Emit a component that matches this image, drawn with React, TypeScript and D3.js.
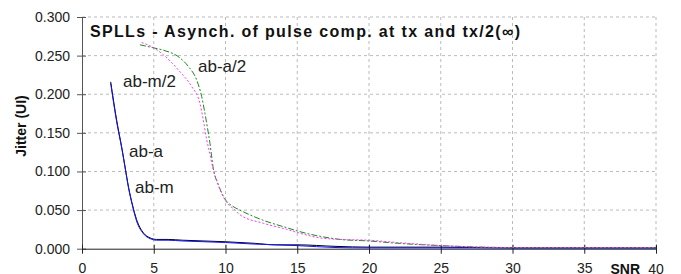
import React, { useEffect, useRef } from 'react'
import * as d3 from 'd3'

const xTicks = [0, 5, 10, 15, 20, 25, 30, 35, 40]
const yTicks = [0, 0.05, 0.1, 0.15, 0.2, 0.25, 0.3]

const abAx = [2, 2.4, 2.8, 3, 3.25, 3.5, 3.8, 4.3, 4.75, 5.2, 6, 7, 8.5, 10, 12, 13.5, 15, 17.7, 20, 25, 30, 35, 40]
const abAy = [0.216, 0.168, 0.128, 0.106, 0.079, 0.058, 0.038, 0.02, 0.014, 0.012, 0.012, 0.011, 0.01, 0.009, 0.007, 0.005, 0.005, 0.003, 0.002, 0.002, 0.001, 0.001, 0.001]
const abMx = [2, 2.4, 2.8, 3, 3.25, 3.5, 3.8, 4.3, 4.75, 5.2, 6, 7, 8.5, 10, 12, 13.5, 15, 17.7, 20, 25, 30, 35, 40]
const abMy = [0.214, 0.166, 0.127, 0.105, 0.078, 0.057, 0.036, 0.019, 0.013, 0.011, 0.011, 0.01, 0.009, 0.008, 0.006, 0.005, 0.004, 0.0015, 0.001, 0.001, 0.001, 0.001, 0.001]
const abA2x = [4.04, 5, 5.67, 6.83, 7.41, 8.0, 8.34, 8.57, 8.73, 8.92, 9.15, 9.5, 9.97, 10.5, 11, 12.6, 14.3, 15, 16.6, 18, 20, 22, 25, 28, 30, 35, 40]
const abA2y = [0.264, 0.26, 0.257, 0.247, 0.236, 0.218, 0.197, 0.175, 0.158, 0.136, 0.104, 0.083, 0.064, 0.055, 0.05, 0.037, 0.027, 0.023, 0.016, 0.012, 0.01, 0.007, 0.004, 0.002, 0.0015, 0.0015, 0.0015]
const abM2x = [4.16, 5, 5.67, 6.83, 7.64, 8.22, 8.45, 8.69, 8.85, 9.15, 9.5, 9.97, 10.66, 11, 12.63, 14.27, 15, 16.6, 18, 20, 22, 25, 28, 30, 35, 40]
const abM2y = [0.267, 0.26, 0.251, 0.229, 0.21, 0.188, 0.167, 0.141, 0.128, 0.102, 0.082, 0.063, 0.05, 0.044, 0.033, 0.025, 0.021, 0.014, 0.012, 0.011, 0.008, 0.004, 0.002, 0.0015, 0.0015, 0.0015]

const App: React.FC = () => {
    const ref = useRef<SVGSVGElement | null>(null)

    useEffect(() => {
        if (!ref.current) return
        const width = 681
        const height = 274
        const svg = d3.select(ref.current)
        svg.selectAll('*').remove()
        svg.attr('width', width).attr('height', height)

        const font = 'Liberation Sans, Arial, sans-serif'
        const x = d3.scaleLinear().domain([0, 40]).range([82, 656])
        const y = d3.scaleLinear().domain([0, 0.3]).range([248.7, 17])

        // grid
        svg.append('g')
            .selectAll('line')
            .data(xTicks.slice(1))
            .join('line')
            .attr('x1', d => x(d)).attr('x2', d => x(d))
            .attr('y1', y(0.3)).attr('y2', y(0))
            .attr('stroke', '#bbb').attr('stroke-dasharray', '3,3')
        svg.append('g')
            .selectAll('line')
            .data(yTicks.slice(1))
            .join('line')
            .attr('x1', x(0)).attr('x2', x(40))
            .attr('y1', d => y(d)).attr('y2', d => y(d))
            .attr('stroke', '#bbb').attr('stroke-dasharray', '3,3')

        // y axis
        const yAxis = svg.append('g')
            .attr('transform', `translate(${x(0)},0)`)
            .call(d3.axisLeft(y).tickValues(yTicks).tickFormat(d3.format('.3f')).tickSize(5).tickSizeOuter(0))
        yAxis.select('.domain').attr('stroke', '#555')
        yAxis.selectAll('.tick line').attr('stroke', '#555').attr('x1', 4)
        yAxis.selectAll('.tick text').attr('fill', '#222').attr('font-size', 14).attr('font-family', font).attr('x', -12)

        // x axis
        const xAxis = svg.append('g')
            .attr('transform', `translate(0,${y(0)})`)
            .call(d3.axisBottom(x).tickValues(xTicks).tickSize(5).tickSizeOuter(0))
        xAxis.select('.domain').attr('stroke', '#222')
        xAxis.selectAll('.tick line').attr('stroke', '#222').attr('y1', -4)
        xAxis.selectAll('.tick text')
            .attr('fill', '#222').attr('font-size', 14).attr('font-family', font)
            .attr('y', 14).attr('dy', '0.71em')
            .text(d => (d === 40 ? '' : String(d)))

        svg.append('text')
            .attr('x', x(40)).attr('y', y(0) + 25)
            .attr('text-anchor', 'middle').attr('font-size', 14).attr('font-family', font).attr('fill', '#222')
            .text('40')
        svg.append('text')
            .attr('x', 640).attr('y', y(0) + 25)
            .attr('text-anchor', 'end').attr('font-size', 14).attr('font-weight', 'bold').attr('font-family', font).attr('fill', '#111')
            .text('SNR')

        svg.append('text')
            .attr('transform', 'translate(26,126) rotate(-90)')
            .attr('text-anchor', 'middle').attr('font-size', 14).attr('font-weight', 'bold').attr('font-family', font).attr('fill', '#111')
            .text('Jitter (UI)')

        svg.append('text')
            .attr('x', 90).attr('y', 37)
            .attr('font-size', 16).attr('font-weight', 'bold').attr('font-family', font).attr('fill', '#111')
            .attr('textLength', 430).attr('lengthAdjust', 'spacing')
            .text('SPLLs - Asynch. of pulse comp. at tx and tx/2(\u221e)')

        const series = [
            { xs: abAx, ys: abAy, color: '#000', dash: null },
            { xs: abMx, ys: abMy, color: '#1010ff', dash: null },
            { xs: abA2x, ys: abA2y, color: '#1a8a1a', dash: '6,2,2,2' },
            { xs: abM2x, ys: abM2y, color: '#ff33ff', dash: '2,2' },
        ]
        const line = d3.line<[number, number]>()
            .x(d => x(d[0])).y(d => y(d[1]))
            .curve(d3.curveMonotoneX)
        series.forEach(s => {
            svg.append('path')
                .datum(s.xs.map((v, i) => [v, s.ys[i]] as [number, number]))
                .attr('d', line)
                .attr('fill', 'none')
                .attr('stroke', s.color)
                .attr('stroke-width', 1)
                .attr('stroke-dasharray', s.dash)
        })

        const labels = [
            { t: 'ab-a/2', x: 198, y: 72 },
            { t: 'ab-m/2', x: 123, y: 87 },
            { t: 'ab-a', x: 129, y: 157 },
            { t: 'ab-m', x: 135, y: 193 },
        ]
        svg.append('g')
            .selectAll('text')
            .data(labels)
            .join('text')
            .attr('x', d => d.x).attr('y', d => d.y)
            .attr('font-size', 17).attr('font-family', font).attr('fill', '#222')
            .text(d => d.t)
    }, [])

    return <svg ref={ref} style={{ position: 'absolute', left: 0, top: 0, background: '#fff' }}></svg>
}

export default App
